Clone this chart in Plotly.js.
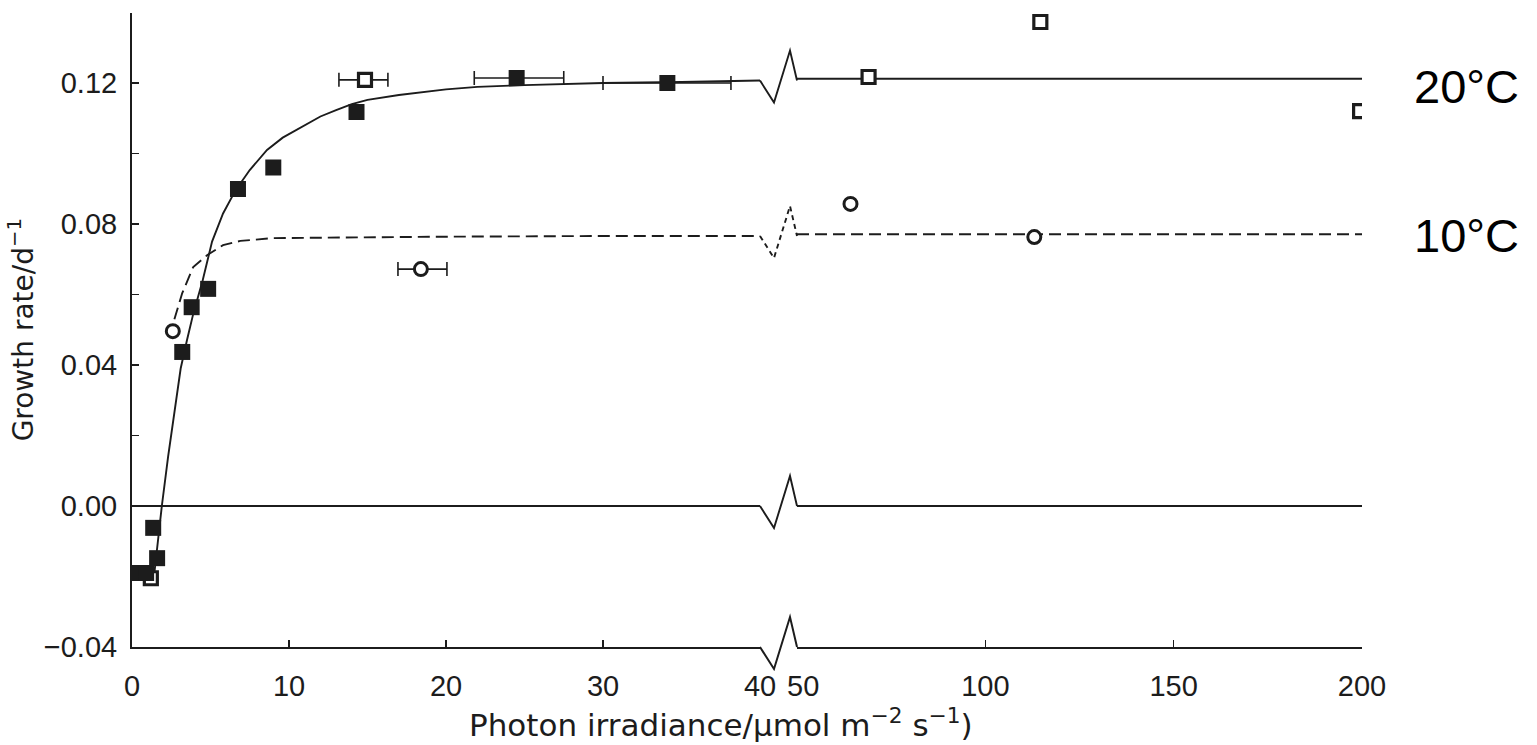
<!DOCTYPE html>
<html>
<head>
<meta charset="utf-8">
<script src="https://cdn.plot.ly/plotly-3.0.1.min.js"></script>
<style>html,body{margin:0;padding:0;background:#fff;}</style>
</head>
<body>
<div id="chart" style="width:1537px;height:745px;"></div>
<script>
// ---- data ----
// 20°C fitted curve (solid), left segment (0–40)
const fit20X = [1.4, 1.65, 1.9, 2.3, 2.7, 3.1, 3.5, 3.9, 4.5, 5.1, 5.8, 6.6, 7.5, 8.6, 9.6, 10.7, 12.0, 13.0, 14.0, 15.0, 17.0, 20.0, 22.0, 25.0, 27.5, 30.0, 35.0, 40.0];
const fit20Y = [-0.020, -0.010, 0.000, 0.014, 0.027, 0.039, 0.047, 0.0545, 0.0640, 0.0750, 0.0830, 0.0896, 0.0953, 0.1010, 0.1045, 0.1072, 0.1105, 0.1123, 0.1140, 0.1152, 0.1166, 0.1182, 0.1189, 0.1194, 0.1197, 0.1200, 0.1203, 0.1207];
// right segment (50–200)
const fit20XR = [50, 200];
const fit20YR = [0.1212, 0.1212];

// 10°C fitted curve (dashed)
const fit10X = [2.7, 3.2, 3.9, 4.8, 5.8, 6.9, 9.0, 13.0, 20.0, 30.0, 40.0];
const fit10Y = [0.053, 0.0604, 0.0678, 0.0712, 0.0740, 0.0752, 0.0760, 0.0762, 0.0764, 0.0766, 0.0766];
const fit10XR = [50, 200];
const fit10YR = [0.0771, 0.0771];

// 20°C filled squares
const filledX = [0.4, 0.9, 1.35, 1.6, 3.2, 3.8, 4.85, 6.75, 9.0, 14.3, 24.5, 34.1];
const filledY = [-0.0190, -0.0190, -0.0062, -0.0148, 0.0437, 0.0564, 0.0616, 0.0899, 0.0960, 0.1118, 0.1214, 0.1200];
const filledErrPlus  = [0, 0, 0, 0, 0, 0, 0, 0, 0, 0, 3.0, 4.05];
const filledErrMinus = [0, 0, 0, 0, 0, 0, 0, 0, 0, 0, 2.7, 4.1];

// 20°C open squares
const openX = [1.2, 14.84, 69, 114.6, 199.5];
const openY = [-0.0205, 0.1209, 0.1217, 0.1373, 0.1120];
const openErrPlus  = [0, 1.46, 0, 0, 0];
const openErrMinus = [0, 1.66, 0, 0, 0];

// 10°C open circles
const circX = [2.6, 18.4, 64.2, 113];
const circY = [0.0496, 0.0672, 0.0857, 0.0763];
const circErrPlus  = [0, 1.66, 0, 0];
const circErrMinus = [0, 1.46, 0, 0];

// axis ticks
const xTicksL = [0, 10, 20, 30, 40];
const xTicksR = [100, 150, 200];
const xBreakLabel = 50;
const yTickVals = [-0.04, 0.00, 0.04, 0.08, 0.12];
const yTickText = ['\u22120.04', '0.00', '0.04', '0.08', '0.12'];
const yMinorVals = [-0.02, 0.02, 0.06, 0.10, 0.14];

// ---- build ----
const INK = '#1c1c1c';
const FONT = 'Liberation Sans, Arial, Helvetica, sans-serif';
const TFONT = 'DejaVu Sans, Liberation Sans, sans-serif';
const BREAK = 40;   // left segment upper bound

function split(xs, ys, ep, em) {
  const L = {x: [], y: [], p: [], m: []}, R = {x: [], y: [], p: [], m: []};
  xs.forEach((v, i) => {
    const t = v <= BREAK ? L : R;
    t.x.push(v); t.y.push(ys[i]);
    t.p.push(ep ? ep[i] : 0); t.m.push(em ? em[i] : 0);
  });
  return [L, R];
}

function pts(d, xa, marker) {
  return {
    type: 'scatter', mode: 'markers', x: d.x, y: d.y, xaxis: xa, yaxis: 'y',
    marker: marker, hoverinfo: 'x+y',
    error_x: {type: 'data', symmetric: false, array: d.p, arrayminus: d.m,
              color: INK, thickness: 1.6, width: 7, visible: true}
  };
}

const solid = {color: INK, width: 1.9};
const dashed = {color: INK, width: 1.9, dash: '12px,6px'};

const mFilled = {symbol: 'square', size: 16, color: INK, line: {width: 0}};
const mOpenSq = {symbol: 'square', size: 13, color: '#fff', line: {color: INK, width: 3.2}};
const mOpenC  = {symbol: 'circle', size: 13, color: '#fff', line: {color: INK, width: 3}};

const [oL, oR] = split(openX, openY, openErrPlus, openErrMinus);
const [cL, cR] = split(circX, circY, circErrPlus, circErrMinus);
const [fL, fR] = split(filledX, filledY, filledErrPlus, filledErrMinus);

const traces = [
  {type: 'scatter', mode: 'lines', x: fit20X, y: fit20Y, xaxis: 'x', yaxis: 'y', line: solid, hoverinfo: 'skip'},
  {type: 'scatter', mode: 'lines', x: fit20XR, y: fit20YR, xaxis: 'x2', yaxis: 'y', line: solid, hoverinfo: 'skip'},
  {type: 'scatter', mode: 'lines', x: fit10X, y: fit10Y, xaxis: 'x', yaxis: 'y', line: dashed, hoverinfo: 'skip'},
  {type: 'scatter', mode: 'lines', x: fit10XR, y: fit10YR, xaxis: 'x2', yaxis: 'y', line: dashed, hoverinfo: 'skip'},
  pts(oL, 'x', mOpenSq), pts(oR, 'x2', mOpenSq),
  pts(cL, 'x', mOpenC), pts(cR, 'x2', mOpenC),
  pts(fL, 'x', mFilled), pts(fR, 'x2', mFilled)
];

const Y0 = -0.04, Y1 = 0.14;
function zig(level, dash, width) {
  return {
    type: 'path', xref: 'x domain', yref: 'y domain',
    xsizemode: 'pixel', ysizemode: 'pixel', xanchor: 1, yanchor: (level - Y0) / (Y1 - Y0),
    path: 'M0,0 L14,-22 L30,30 L37,0',
    line: {color: INK, width: width, dash: dash || 'solid'}, layer: 'above'
  };
}

const tickFont = {family: FONT, size: 29, color: INK};
const W = 1537, H = 745;
const tickStyle = {ticks: 'inside', ticklen: 7, tickwidth: 1.6, tickcolor: INK};

const layout = {
  width: W, height: H,
  margin: {l: 0, r: 0, t: 0, b: 0},
  paper_bgcolor: '#fff', plot_bgcolor: 'rgba(0,0,0,0)',
  showlegend: false,
  font: {family: FONT, color: INK},
  xaxis: Object.assign({
    domain: [132 / W, 760 / W], range: [0, 40], anchor: 'y', automargin: false,
    tickmode: 'array', tickvals: xTicksL, ticktext: xTicksL.map(String),
    showline: true, linecolor: INK, linewidth: 2, showgrid: false, zeroline: false,
    tickfont: tickFont, ticklabelstandoff: 12
  }, tickStyle),
  xaxis2: Object.assign({
    domain: [797 / W, 1362 / W], range: [50, 200], anchor: 'y', automargin: false,
    tickmode: 'array', tickvals: xTicksR, ticktext: xTicksR.map(String),
    showline: true, linecolor: INK, linewidth: 2, showgrid: false, zeroline: false,
    tickfont: tickFont, ticklabelstandoff: 12
  }, tickStyle),
  yaxis: Object.assign({
    domain: [98 / H, 732.5 / H], range: [Y0, Y1], anchor: 'x', automargin: false,
    tickmode: 'array', tickvals: yTickVals, ticktext: yTickText,
    minor: Object.assign({tickmode: 'array', tickvals: yMinorVals, showgrid: false}, tickStyle),
    showline: true, linecolor: INK, linewidth: 2, showgrid: false,
    zeroline: true, zerolinecolor: INK, zerolinewidth: 1.6,
    tickfont: tickFont, ticklabelstandoff: 7,
    title: {text: 'Growth rate/d<sup>\u22121</sup>', font: {family: TFONT, size: 28, color: INK}, standoff: 2}
  }, tickStyle),
  shapes: [
    zig(0.1207, 'solid', 1.9),
    zig(0.0766, '5px,4px', 1.9),
    zig(0.0, 'solid', 1.9),
    zig(Y0, 'solid', 2)
  ],
  annotations: [
    {text: String(xBreakLabel), xref: 'x2', yref: 'paper', x: xBreakLabel, xshift: 6,
     y: (H - 686) / H, xanchor: 'center', yanchor: 'middle', showarrow: false, font: tickFont},
    {text: 'Photon irradiance/\u03bcmol m<sup>\u22122</sup> s<sup>\u22121</sup>)', xref: 'paper', yref: 'paper',
     x: 721 / W, y: (H - 723) / H, xanchor: 'center', yanchor: 'middle', showarrow: false,
     font: {family: TFONT, size: 31, color: INK}},
    {text: '20\u00b0C', xref: 'paper', yref: 'paper', x: 1412 / W, y: (H - 86) / H,
     xanchor: 'left', yanchor: 'middle', showarrow: false, font: {family: FONT, size: 47, color: '#000'}},
    {text: '10\u00b0C', xref: 'paper', yref: 'paper', x: 1412 / W, y: (H - 236) / H,
     xanchor: 'left', yanchor: 'middle', showarrow: false, font: {family: FONT, size: 47, color: '#000'}}
  ]
};

Plotly.newPlot('chart', traces, layout, {displayModeBar: false, staticPlot: true});
</script>
</body>
</html>
